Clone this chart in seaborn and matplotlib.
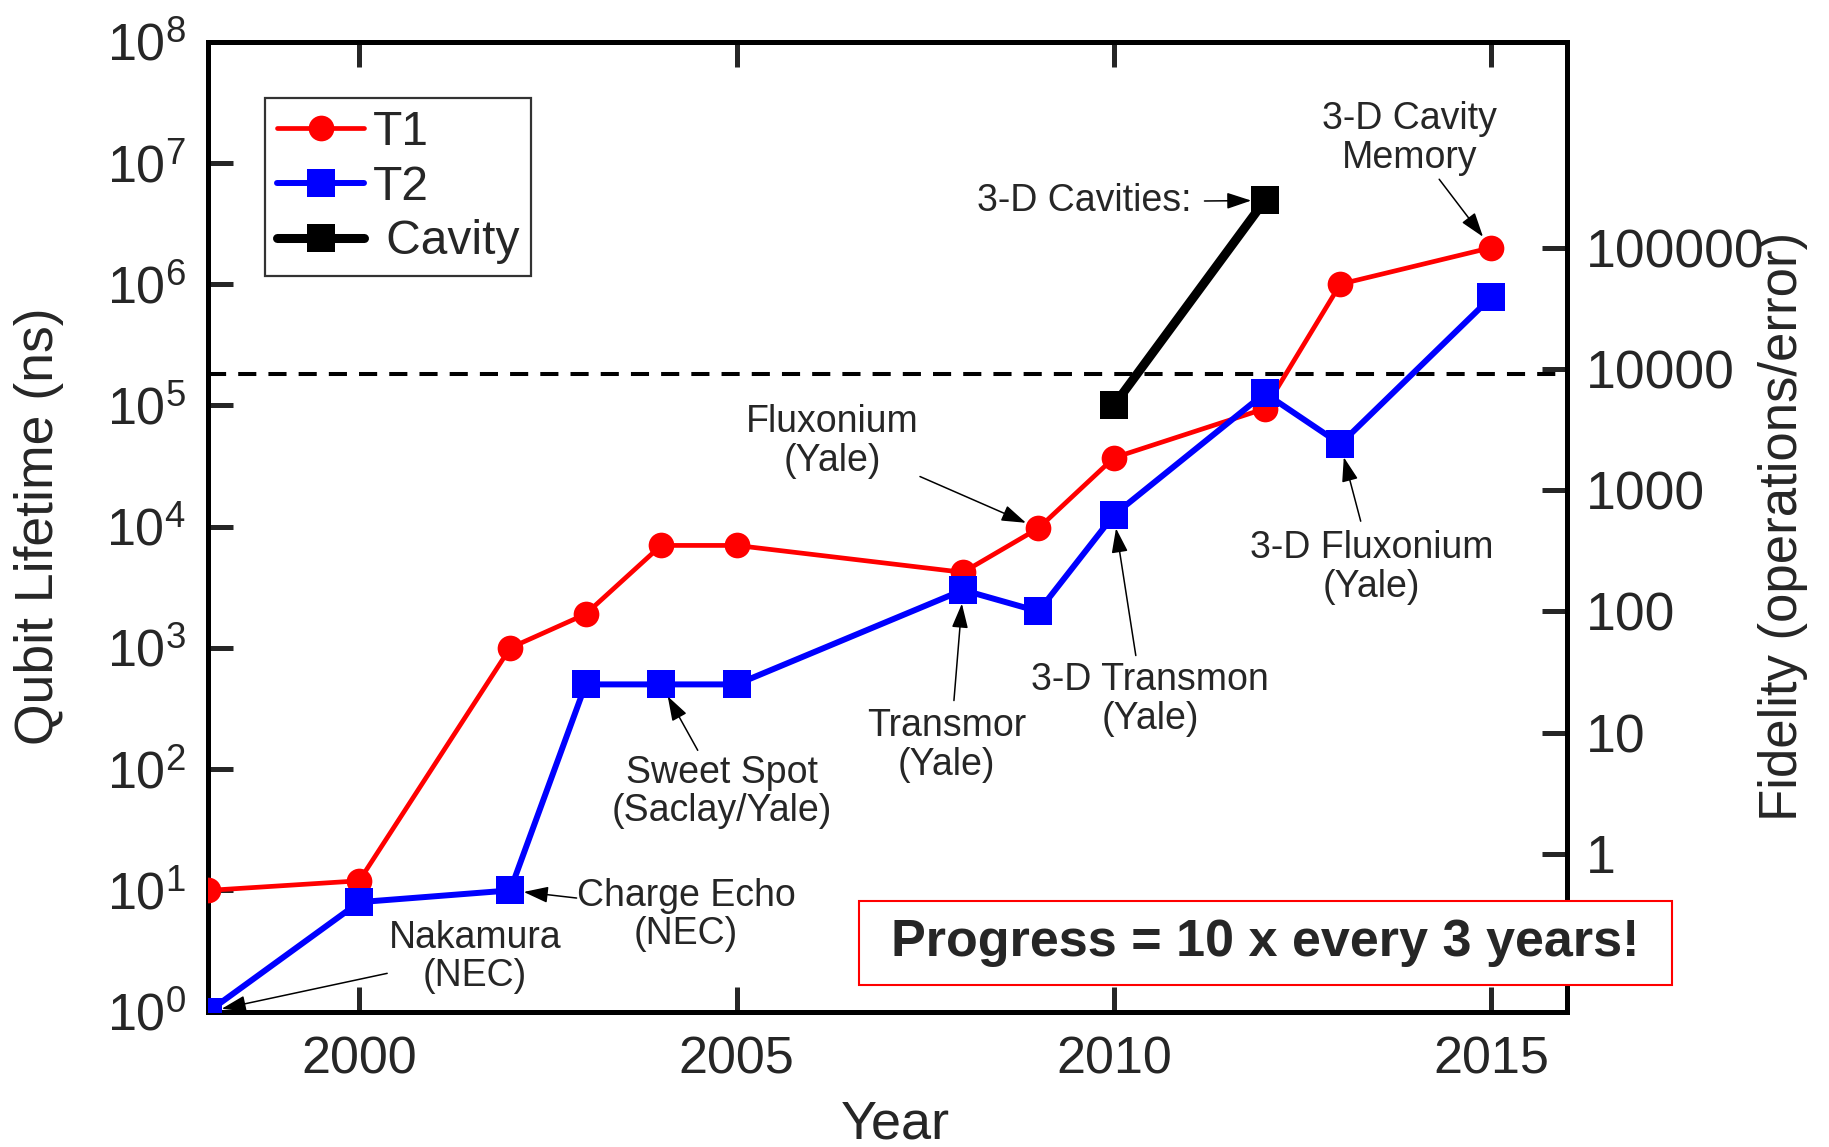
import math
import matplotlib
matplotlib.use("Agg")
import matplotlib.pyplot as plt
import seaborn as sns
import pandas as pd
from matplotlib.ticker import FixedLocator, FixedFormatter, NullLocator, FuncFormatter
from matplotlib.patches import Rectangle

# ---- data -------------------------------------------------------------
years_t1 = [1998, 2000, 2002, 2003, 2004, 2005, 2008, 2009, 2010, 2012, 2013, 2015]
t1_ns = [10, 12, 1000, 1900, 7000, 7000, 4200, 9700, 37000, 94000, 1.0e6, 2.0e6]

years_t2 = [1998, 2000, 2002, 2003, 2004, 2005, 2008, 2009, 2010, 2012, 2013, 2015]
t2_ns = [1, 8, 10, 500, 500, 500, 3000, 2000, 12500, 126000, 48000, 7.8e5]

years_cavity = [2010, 2012]
cavity_ns = [1.0e5, 4.9e6]

series_names = ["T1", "T2", "Cavity"]
gate_time_ns = 20          # lifetime / gate time = fidelity (operations/error)
threshold_ns = 1.8e5       # dashed threshold level

year_ticks = [2000, 2005, 2010, 2015]
year_tick_labels = ["2000", "2005", "2010", "2015"]
lifetime_exponents = [0, 1, 2, 3, 4, 5, 6, 7, 8]
fidelity_ticks = [1, 10, 100, 1000, 10000, 100000]
fidelity_tick_labels = ["1", "10", "100", "1000", "10000", "100000"]

progress_text = "Progress = 10 x every 3 years!"

# ---- style ------------------------------------------------------------
sns.set_style("white")
plt.rcParams["font.family"] = ["Liberation Sans", "DejaVu Sans"]
plt.rcParams["mathtext.fontset"] = "custom"
plt.rcParams["mathtext.rm"] = "Liberation Sans"
plt.rcParams["mathtext.it"] = "Liberation Sans:italic"
plt.rcParams["mathtext.bf"] = "Liberation Sans:bold"

RED, BLUE, BLACK = "#ff0000", "#0000ff", "#000000"
SPINE_W = 3.6

fig = plt.figure(figsize=(18.29, 11.47), dpi=100)
ax = fig.add_axes([0.1139, 0.1180, 0.7427, 0.8457])

# threshold line
ax.axhline(threshold_ns, color="black", lw=2.9, ls=(0, (4.5, 3.0)), zorder=1)

df_t1 = pd.DataFrame({"year": years_t1, "ns": t1_ns})
df_t2 = pd.DataFrame({"year": years_t2, "ns": t2_ns})
df_cav = pd.DataFrame({"year": years_cavity, "ns": cavity_ns})

sns.lineplot(data=df_t1, x="year", y="ns", ax=ax, color=RED, lw=3.4,
             marker="o", markersize=18.5, markeredgewidth=0,
             estimator=None, sort=False, label=series_names[0], zorder=3)
sns.lineplot(data=df_t2, x="year", y="ns", ax=ax, color=BLUE, lw=4.3,
             marker="s", markersize=19.5, markeredgewidth=0,
             estimator=None, sort=False, label=series_names[1], zorder=4)
sns.lineplot(data=df_cav, x="year", y="ns", ax=ax, color=BLACK, lw=6.5,
             marker="s", markersize=19.5, markeredgewidth=0,
             estimator=None, sort=False, label=" " + series_names[2], zorder=4)

# ---- axes -------------------------------------------------------------
ax.set_yscale("log")
ax.set_xlim(1998, 2016)
ax.set_ylim(1, 1e8)

ax.xaxis.set_major_locator(FixedLocator(year_ticks))
ax.xaxis.set_major_formatter(FixedFormatter(year_tick_labels))
ax.yaxis.set_major_locator(FixedLocator([10.0 ** e for e in lifetime_exponents]))
ax.yaxis.set_major_formatter(
    FuncFormatter(lambda v, pos: r"$\mathregular{10^{%d}}$" % round(math.log10(v))))
ax.yaxis.set_minor_locator(NullLocator())
ax.xaxis.set_minor_locator(NullLocator())

for s in ax.spines.values():
    s.set_linewidth(SPINE_W)
    s.set_color("black")

ax.tick_params(axis="x", which="major", direction="in", length=18, width=SPINE_W,
               labelsize=37.5, pad=17, top=True, bottom=True, labeltop=False)
ax.tick_params(axis="y", which="major", direction="in", length=18, width=SPINE_W,
               labelsize=37.5, pad=16, left=True, right=False)

ax.set_xlabel("Year", fontsize=39)
ax.xaxis.set_label_coords(0.506, -0.091)
ax.set_ylabel("Qubit Lifetime (ns)", fontsize=38.5)
ax.yaxis.set_label_coords(-0.106, 0.5)

# fidelity axis on the right
sec = ax.secondary_yaxis("right", functions=(lambda v: v / gate_time_ns,
                                             lambda v: v * gate_time_ns))
sec.yaxis.set_major_locator(FixedLocator(fidelity_ticks))
sec.yaxis.set_major_formatter(FixedFormatter(fidelity_tick_labels))
sec.yaxis.set_minor_locator(NullLocator())
sec.tick_params(axis="y", which="major", direction="in", length=18, width=SPINE_W,
                labelsize=38.5, pad=14)
sec.spines["right"].set_linewidth(SPINE_W)
sec.set_ylabel("Fidelity (operations/error)", fontsize=38)
sec.yaxis.set_label_coords(1.1408, 0.5, transform=ax.transAxes)

# ---- legend -----------------------------------------------------------
handles, labels = ax.get_legend_handles_labels()
leg = ax.legend(handles, labels, loc="upper left", bbox_to_anchor=(0.0417, 0.9417),
                borderaxespad=0, fontsize=34.5, handlelength=1.82, handletextpad=0.18,
                labelspacing=0.2, borderpad=0.25, frameon=True, fancybox=False)
leg.get_frame().set_edgecolor("black")
leg.get_frame().set_linewidth(1.6)

# ---- annotations ------------------------------------------------------
arrow_kw = dict(arrowstyle="-|>,head_length=15,head_width=5", mutation_scale=1,
                color="black", lw=1.1, shrinkA=0, shrinkB=9.8)
ann_font = 27

notes = [
    ("Nakamura\n(NEC)", (2001.53, 2.82), (2000.37, 2.07), (years_t2[0], t2_ns[0])),
    ("Charge Echo\n(NEC)", (2004.33, 6.27), (2002.88, 8.65), (years_t2[2], t2_ns[2])),
    ("Sweet Spot\n(Saclay/Yale)", (2004.81, 64.9), (2004.485, 143), (years_t2[4], t2_ns[4])),
    ("Transmor\n(Yale)", (2007.78, 157), (2007.88, 368), (years_t2[6], t2_ns[6])),
    ("3-D Transmon\n(Yale)", (2010.48, 376), (2010.29, 865), (years_t2[8], t2_ns[8])),
    ("Fluxonium\n(Yale)", (2006.27, 50200), (2007.43, 25900), (years_t1[7], t1_ns[7])),
    ("3-D Fluxonium\n(Yale)", (2013.41, 4590), (2013.27, 11090), (years_t2[10], t2_ns[10])),
    ("3-D Cavity\nMemory", (2013.92, 1.6e7), (2014.31, 7.33e6), (years_t1[11], t1_ns[11])),
]
for text, txy, tail, head in notes:
    ax.text(txy[0], txy[1], text, fontsize=ann_font, ha="center", va="center",
            multialignment="center", linespacing=1.1, zorder=6)
    ax.annotate("", xy=head, xytext=tail, arrowprops=arrow_kw, zorder=6)

ax.text(2011.03, 4.85e6, "3-D Cavities:", fontsize=ann_font, ha="right", va="center", zorder=6)
ax.annotate("", xy=(years_cavity[1], cavity_ns[1]), xytext=(2011.20, 4.85e6),
            arrowprops=arrow_kw, zorder=6)

# ---- progress banner --------------------------------------------------
fig.add_artist(Rectangle((0.4697, 0.1412), 0.4447, 0.0732, transform=fig.transFigure,
                         facecolor="white", edgecolor=RED, lw=1.5, zorder=5))
fig.text(0.692, 0.1779, progress_text, fontsize=37.5, fontweight="bold",
         ha="center", va="center", zorder=6)

fig.savefig("out.png", dpi=100)
